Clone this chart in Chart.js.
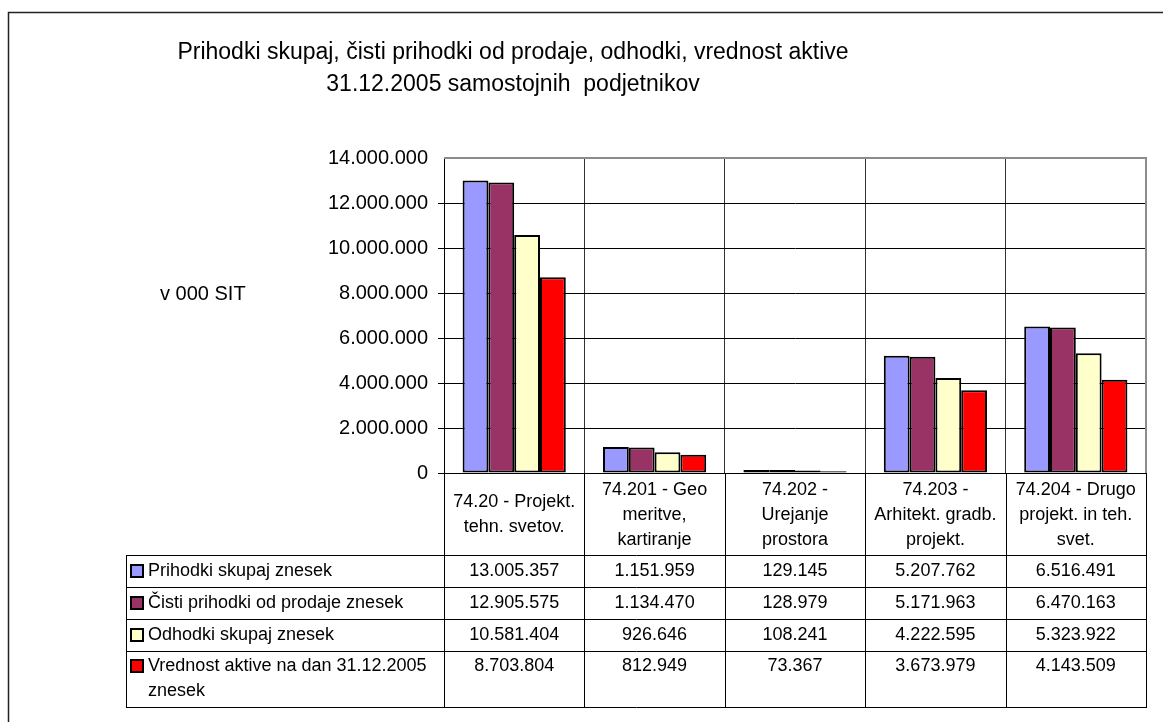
<!DOCTYPE html>
<html>
<head>
<meta charset="utf-8">
<script src="https://cdn.jsdelivr.net/npm/chart.js@4.4.1/dist/chart.umd.min.js"></script>
<style>
  html, body { margin: 0; padding: 0; background: #ffffff; }
  #wrap { position: relative; width: 1163px; height: 722px; }
  canvas { display: block; }
</style>
</head>
<body>
<div id="wrap"><canvas id="c" width="1163" height="722"></canvas></div>
<script>
// ---- Data ----
const titleLines = ["Prihodki skupaj, čisti prihodki od prodaje, odhodki, vrednost aktive", "31.12.2005 samostojnih  podjetnikov"];
const yAxisTitle = "v 000 SIT";
const categories = [
  ["74.20 - Projekt.", "tehn. svetov."],
  ["74.201 - Geo", "meritve,", "kartiranje"],
  ["74.202 -", "Urejanje", "prostora"],
  ["74.203 -", "Arhitekt. gradb.", "projekt."],
  ["74.204 - Drugo", "projekt. in teh.", "svet."]
];
const seriesNames = [
  ["Prihodki skupaj znesek"],
  ["Čisti prihodki od prodaje znesek"],
  ["Odhodki skupaj znesek"],
  ["Vrednost aktive na dan 31.12.2005", "znesek"]
];
const prihodkiSkupaj = [13005357, 1151959, 129145, 5207762, 6516491];
const cistiPrihodki  = [12905575, 1134470, 128979, 5171963, 6470163];
const odhodkiSkupaj  = [10581404, 926646, 108241, 4222595, 5323922];
const vrednostAktive = [8703804, 812949, 73367, 3673979, 4143509];
const seriesColors = ["#9999FF", "#993366", "#FFFFCC", "#FF0000"];
const yMin = 0, yMax = 14000000, yStep = 2000000;

const seriesValues = [prihodkiSkupaj, cistiPrihodki, odhodkiSkupaj, vrednostAktive];

function fmt(n) {
  return String(Math.round(n)).replace(/\B(?=(\d{3})+(?!\d))/g, ".");
}

const FONT = "'Liberation Sans', Arial, sans-serif";

// ---- Layout constants ----
const L = {
  outerLeft: 8.5, outerTop: 12.5,
  plotLeft: 444, plotTop: 158, plotRight: 1146, plotBottom: 473,
  tableLeft: 126,
  rowLines: [555, 587, 619, 651, 707],
  rowTextY: [571, 603, 635, 666],
  lineH: 25,
  titleX: 513
};

const decorPlugin = {
  id: 'decor',
  afterDraw(chart) {
    const ctx = chart.ctx;
    const ca = chart.chartArea;
    const xs = chart.scales.x;
    const n = categories.length;
    const colW = (ca.right - ca.left) / n;
    ctx.save();

    // outer chart border
    ctx.strokeStyle = '#222';
    ctx.lineWidth = 1.5;
    ctx.beginPath();
    ctx.moveTo(L.outerLeft, 740);
    ctx.lineTo(L.outerLeft, L.outerTop);
    ctx.lineTo(1180, L.outerTop);
    ctx.stroke();

    // plot area border top/right (gray)
    ctx.strokeStyle = '#8c8c8c';
    ctx.lineWidth = 2;
    ctx.beginPath();
    ctx.moveTo(ca.left, ca.top);
    ctx.lineTo(ca.right, ca.top);
    ctx.lineTo(ca.right, ca.bottom);
    ctx.stroke();

    // title
    ctx.fillStyle = '#000';
    ctx.font = '23px ' + FONT;
    ctx.textAlign = 'center';
    ctx.textBaseline = 'middle';
    ctx.fillText(titleLines[0], L.titleX, 53);
    ctx.fillText(titleLines[1], L.titleX, 85);

    // y axis title
    ctx.font = '20px ' + FONT;
    ctx.textAlign = 'left';
    ctx.fillText(yAxisTitle, 160, 294);

    // ---- data table ----
    ctx.strokeStyle = '#000';
    ctx.lineWidth = 1;
    const tBottom = L.rowLines[L.rowLines.length - 1];
    for (let i = 0; i <= n; i++) {
      const x = Math.round(ca.left + i * colW) + 0.5;
      ctx.beginPath();
      ctx.moveTo(x, ca.bottom);
      ctx.lineTo(x, tBottom);
      ctx.stroke();
    }
    ctx.beginPath();
    ctx.moveTo(L.tableLeft + 0.5, L.rowLines[0]);
    ctx.lineTo(L.tableLeft + 0.5, tBottom);
    ctx.stroke();
    L.rowLines.forEach(y => {
      ctx.beginPath();
      ctx.moveTo(L.tableLeft, y + 0.5);
      ctx.lineTo(Math.round(ca.right) + 1, y + 0.5);
      ctx.stroke();
    });

    // category header labels
    ctx.font = '18px ' + FONT;
    ctx.textAlign = 'center';
    ctx.textBaseline = 'middle';
    const hMid = (ca.bottom + L.rowLines[0]) / 2 + 1;
    categories.forEach((lines, i) => {
      const cx = xs.getPixelForValue(i);
      const y0 = hMid - (lines.length - 1) * L.lineH / 2;
      lines.forEach((t, k) => ctx.fillText(t, cx, y0 + k * L.lineH));
    });

    // rows
    seriesNames.forEach((lines, r) => {
      const y = L.rowTextY[r];
      ctx.fillStyle = seriesColors[r];
      ctx.fillRect(131, y - 6, 12, 12);
      ctx.strokeStyle = '#000';
      ctx.lineWidth = 2;
      ctx.strokeRect(131, y - 6, 12, 12);
      ctx.fillStyle = '#000';
      ctx.textAlign = 'left';
      lines.forEach((t, k) => ctx.fillText(t, 148, y + k * L.lineH));
      ctx.textAlign = 'center';
      seriesValues[r].forEach((v, i) => {
        ctx.fillText(fmt(v), xs.getPixelForValue(i), y);
      });
    });

    ctx.restore();
  }
};

const ctx = document.getElementById('c').getContext('2d');
new Chart(ctx, {
  type: 'bar',
  data: {
    labels: categories.map(c => c.join(' ')),
    datasets: seriesNames.map((nm, i) => ({
      label: nm.join(' '),
      data: seriesValues[i],
      backgroundColor: seriesColors[i],
      borderColor: '#000',
      borderWidth: 2,
      borderSkipped: false,
      barPercentage: 1.0,
      categoryPercentage: 0.735
    }))
  },
  options: {
    responsive: false,
    animation: false,
    devicePixelRatio: 1,
    layout: { padding: { left: 0, top: L.plotTop, right: 1163 - L.plotRight, bottom: 722 - L.plotBottom } },
    plugins: {
      legend: { display: false },
      title: { display: false },
      tooltip: { enabled: false }
    },
    scales: {
      x: {
        offset: true,
        ticks: { display: false },
        grid: {
          offset: true,
          drawTicks: false,
          color: (c) => (c.index === categories.length ? 'rgba(0,0,0,0)' : '#333'),
          lineWidth: 1
        },
        border: { display: true, color: '#000', width: 1 },
        afterFit: (s) => { s.height = 0; }
      },
      y: {
        min: yMin,
        max: yMax,
        ticks: {
          stepSize: yStep,
          color: '#000',
          padding: 10,
          font: { family: FONT, size: 20 },
          callback: (v) => fmt(v)
        },
        grid: {
          color: (c) => (c.tick && c.tick.value === yMax ? 'rgba(0,0,0,0)' : '#000'),
          tickLength: 6,
          lineWidth: 1
        },
        border: { display: true, color: '#000', width: 1 },
        afterFit: (s) => { s.width = L.plotLeft; }
      }
    }
  },
  plugins: [decorPlugin]
});
</script>
</body>
</html>
